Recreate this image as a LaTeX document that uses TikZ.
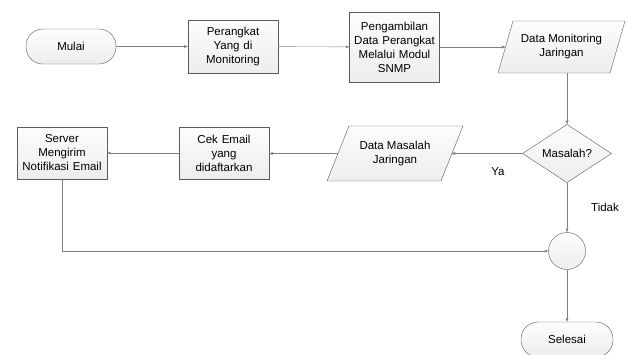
\documentclass[tikz,border=0pt]{standalone}
\usepackage{fontspec}
\setmainfont{Liberation Sans}
\usetikzlibrary{shapes.geometric, arrows.meta}

\definecolor{garis}{HTML}{808080}
\definecolor{tepi}{HTML}{5A5A5A}

\begin{document}
\begin{tikzpicture}[x=1pt, y=-1pt, >={Stealth[length=4pt, width=3pt]},
    font=\fontsize{11.5}{14}\selectfont,
    kotak/.style={draw=tepi, top color=gray!2, bottom color=gray!14, align=center, inner sep=2pt},
    proses/.style={kotak, rectangle, minimum width=90, text width=84},
    terminal/.style={kotak, rectangle, rounded corners=17pt, minimum width=90, minimum height=35},
    teks/.style={align=center, inner sep=2pt},
    keputusan/.style={kotak, diamond, minimum width=89, minimum height=53, inner sep=0pt},
    hubung/.style={draw=garis, thin, ->}]

    % Batas gambar
    \useasboundingbox (0,0) rectangle (632,354);

    % Jajar genjang data (digambar manual)
    \path[kotak] (498,73) -- (513,21) -- (625,21) -- (610,73) -- cycle;
    \path[kotak] (327,181) -- (349,126) -- (463,126) -- (441,181) -- cycle;

    % Baris atas
    \node[terminal] (mulai) at (71,46.5) {Mulai};
    \node[proses, minimum height=53] (perangkat) at (233,46.5) {Perangkat\\Yang di\\Monitoring};
    \node[proses, minimum height=70] (ambil) at (394.5,47) {Pengambilan\\Data Perangkat\\Melalui Modul\\SNMP};
    \node[teks] (datamon) at (561.5,47) {Data Monitoring\\Jaringan};
    \coordinate (datamon-kiri) at (505.5,47);
    \coordinate (datamon-bawah) at (567,73);

    % Baris tengah
    \node[keputusan] (masalah) at (567,153.5) {Masalah?};
    \node[teks] (datamasalah) at (395,153.5) {Data Masalah\\Jaringan};
    \coordinate (datamasalah-kanan) at (451.5,153.5);
    \coordinate (datamasalah-kiri) at (338,153.5);
    \node[proses, minimum height=52] (cek) at (224,153) {Cek Email\\yang\\didaftarkan};
    \node[proses, minimum height=52] (server) at (62,153) {Server\\Mengirim\\Notifikasi Email};

    % Baris bawah
    \node[kotak, circle, minimum size=37] (gabung) at (567,251) {};
    \node[terminal, minimum width=92] (selesai) at (567,339.5) {Selesai};

    % Label cabang
    \node (ya) at (498,172) {Ya};
    \node (tidak) at (605,207) {Tidak};

    % Garis penghubung
    \draw[hubung] (mulai) -- (perangkat);
    \draw[hubung] (perangkat) -- (ambil);
    \draw[hubung] (ambil) -- (datamon-kiri);
    \draw[hubung] (datamon-bawah) -- (masalah.north);
    \draw[hubung] (masalah.west) -- (datamasalah-kanan);
    \draw[hubung] (datamasalah-kiri) -- (cek.east |- datamasalah-kiri);
    \draw[hubung] (cek) -- (server);
    \draw[hubung] (server.south) |- (gabung.west);
    \draw[hubung] (masalah.south) -- (gabung.north);
    \draw[hubung] (gabung) -- (selesai);

\end{tikzpicture}
\end{document}
